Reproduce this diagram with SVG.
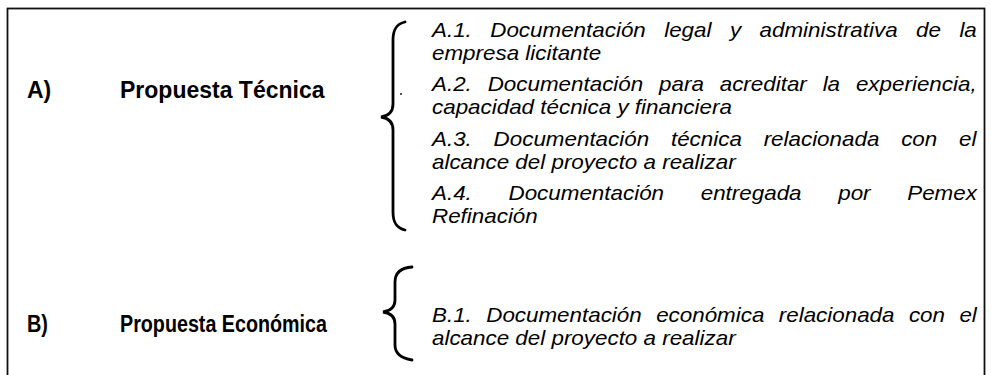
<svg xmlns="http://www.w3.org/2000/svg" width="991" height="375" viewBox="0 0 991 375">
<style>
.lbl{font-family:"Liberation Sans",Arial,sans-serif;font-weight:bold;font-size:23px;fill:#000}
.itm{font-family:"Liberation Sans",Arial,sans-serif;font-style:italic;font-size:20px;fill:#000}
.brace{fill:none;stroke:#000;stroke-width:2.8;stroke-linecap:round}
</style>
<rect x="7.5" y="8.5" width="977" height="380" fill="#fff" stroke="#111" stroke-width="1.8"/>
<g id="nodeA">
<text class="lbl" x="27" y="98">A)</text>
<text class="lbl" x="120" y="98">Propuesta Técnica</text>
<circle cx="401" cy="94" r="0.9" fill="#000"/>
</g>
<g id="itemsA" transform="translate(432,0) scale(1.12,1)">
<text class="itm" x="0" y="37" word-spacing="10.9">A.1. Documentación legal y administrativa de la</text>
<text class="itm" x="0" y="60">empresa licitante</text>
<text class="itm" x="0" y="91" word-spacing="8.6">A.2. Documentación para acreditar la experiencia,</text>
<text class="itm" x="0" y="114">capacidad técnica y financiera</text>
<text class="itm" x="0" y="146" word-spacing="13.9">A.3. Documentación técnica relacionada con el</text>
<text class="itm" x="0" y="169">alcance del proyecto a realizar</text>
<text class="itm" x="0" y="200" word-spacing="27.2">A.4. Documentación entregada por Pemex</text>
<text class="itm" x="0" y="223">Refinación</text>
</g>
<g id="nodeB">
<text class="lbl" x="27" y="332" textLength="21" lengthAdjust="spacingAndGlyphs">B)</text>
<text class="lbl" x="120" y="332" textLength="207" lengthAdjust="spacingAndGlyphs">Propuesta Económica</text>
</g>
<g id="itemsB" transform="translate(432,0) scale(1.12,1)">
<text class="itm" x="0" y="322" word-spacing="7.3">B.1. Documentación económica relacionada con el</text>
<text class="itm" x="0" y="345">alcance del proyecto a realizar</text>
</g>
<g id="connectors">
<path class="brace" d="M405,22 C396,24 393,30 393,40 L393,104 C393,112 388,116 381,117 C388,118 393,122 393,130 L393,212 C393,222 396,228 405,230"/>
<path class="brace" d="M412,267 C400,268 395,273 395,282 L395,300 C395,307 390,311 383,312 C390,313 395,317 395,324 L395,345 C395,353 400,358 412,360"/>
</g>
</svg>
